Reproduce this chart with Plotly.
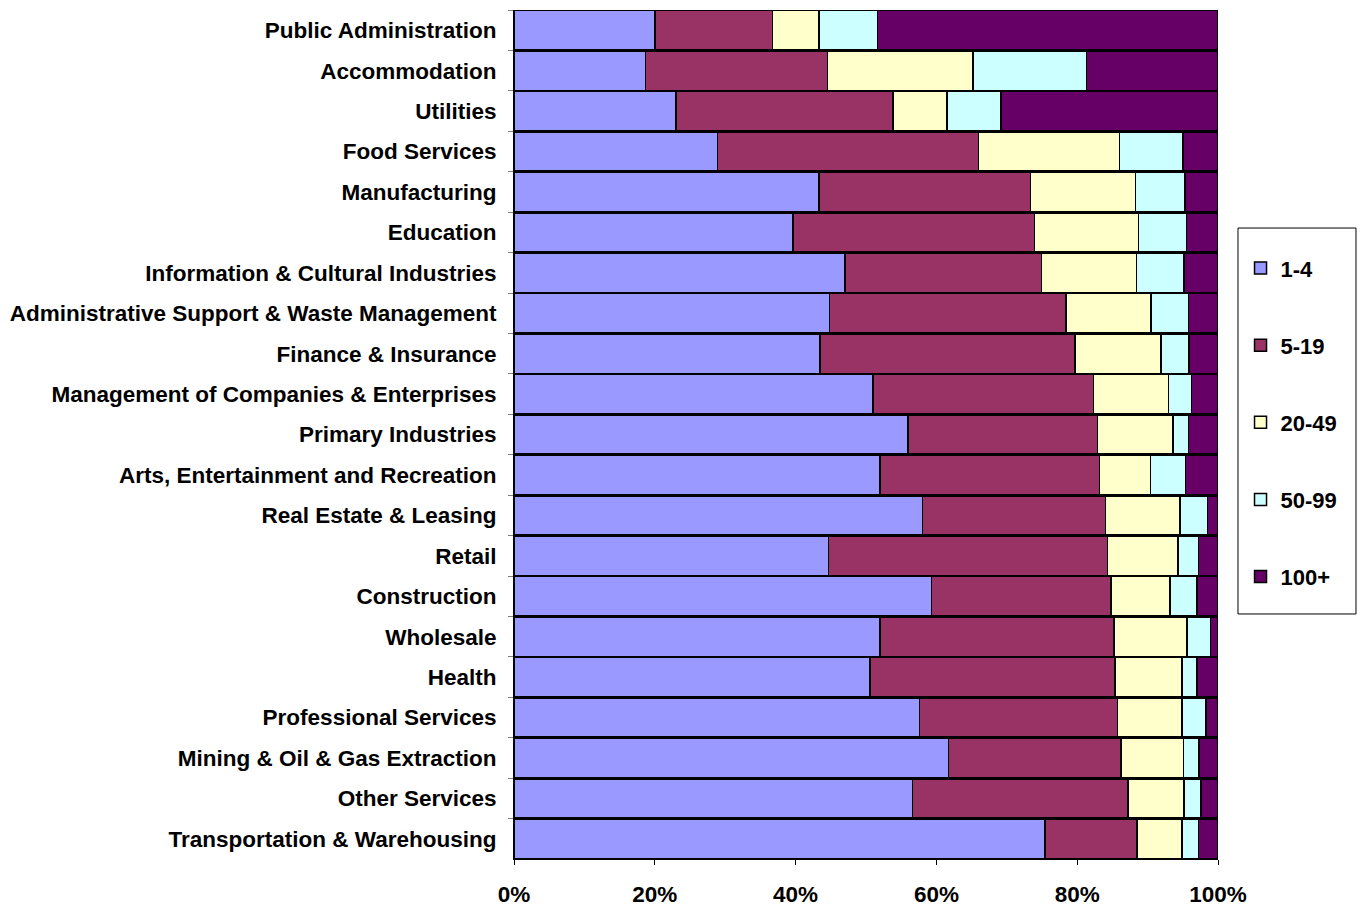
import plotly.graph_objects as go

industries = [
    "Public Administration",
    "Accommodation",
    "Utilities",
    "Food Services",
    "Manufacturing",
    "Education",
    "Information & Cultural Industries",
    "Administrative Support & Waste Management",
    "Finance & Insurance",
    "Management of Companies & Enterprises",
    "Primary Industries",
    "Arts, Entertainment and Recreation",
    "Real Estate & Leasing",
    "Retail",
    "Construction",
    "Wholesale",
    "Health",
    "Professional Services",
    "Mining & Oil & Gas Extraction",
    "Other Services",
    "Transportation & Warehousing",
]

size_1_4 = [20.0, 18.7, 23.0, 28.9, 43.3, 39.6, 47.0, 44.8, 43.5, 51.0, 56.0,
            52.0, 58.0, 44.7, 59.3, 52.0, 50.6, 57.6, 61.7, 56.6, 75.4]
size_5_19 = [16.7, 25.8, 30.8, 37.1, 30.1, 34.3, 27.9, 33.6, 36.2, 31.3, 26.9,
             31.2, 26.0, 39.6, 25.5, 33.2, 34.8, 28.1, 24.5, 30.6, 13.1]
size_20_49 = [6.6, 20.7, 7.7, 20.0, 14.9, 14.8, 13.5, 12.1, 12.2, 10.7, 10.7,
              7.2, 10.6, 10.0, 8.4, 10.4, 9.5, 9.2, 8.9, 8.0, 6.4]
size_50_99 = [8.3, 16.1, 7.7, 9.0, 7.0, 6.8, 6.8, 5.3, 4.0, 3.2, 2.2,
              5.0, 3.9, 2.9, 3.8, 3.3, 2.1, 3.4, 2.2, 2.4, 2.3]
size_100p = [48.4, 18.7, 30.8, 5.0, 4.7, 4.5, 4.8, 4.2, 4.1, 3.8, 4.2,
             4.6, 1.5, 2.8, 3.0, 1.1, 3.0, 1.7, 2.7, 2.4, 2.8]

series_names = ["1-4", "5-19", "20-49", "50-99", "100+"]
series_values = [size_1_4, size_5_19, size_20_49, size_50_99, size_100p]
colors = ["#9999FF", "#993366", "#FFFFCC", "#CCFFFF", "#660066"]

x_tickvals = [0, 20, 40, 60, 80, 100]
x_ticktext = ["0%", "20%", "40%", "60%", "80%", "100%"]

FONT = "Liberation Sans, Arial, sans-serif"
FS = 22.5

fig = go.Figure()
for name, vals, col in zip(series_names, series_values, colors):
    fig.add_trace(go.Bar(
        y=industries, x=vals, name=name, orientation="h",
        marker=dict(color=col, line=dict(color="black", width=1.5)),
        legendgroup=name,
        hoverinfo="name+x",
    ))

# legend frame (drawn as a shape so it can be padded like the original)
fig.add_shape(type="rect", xref="paper", yref="paper",
              x0=1.0284, x1=1.196, y0=0.2886, y1=0.7432,
              line=dict(color="black", width=1), fillcolor="white", layer="below")

fig.update_layout(
    width=1361, height=906,
    barmode="stack", barnorm="percent", bargap=0.03,
    plot_bgcolor="white", paper_bgcolor="white",
    margin=dict(l=514, r=143, t=10, b=47, autoexpand=False),
    font=dict(family=FONT, size=FS, color="black", weight="bold"),
    legend=dict(
        x=1.032, xanchor="left", y=0.7205, yanchor="top",
        borderwidth=0, bgcolor="rgba(0,0,0,0)",
        traceorder="grouped", tracegroupgap=45.5,
        font=dict(family=FONT, size=22, color="black", weight="bold"),
    ),
    xaxis=dict(
        range=[0, 100], tickvals=x_tickvals, ticktext=x_ticktext,
        showgrid=False, zeroline=False, showline=True, linecolor="black",
        linewidth=1, ticks="outside", ticklen=5, tickcolor="black",
        ticklabelstandoff=10, automargin=False,
        tickfont=dict(family=FONT, size=FS, color="black", weight="bold"),
    ),
    yaxis=dict(
        autorange="reversed", showgrid=False, showline=True, linecolor="black",
        linewidth=1, ticks="outside", ticklen=5, tickcolor="gray",
        tickson="boundaries", ticklabelstandoff=12, automargin=False,
        tickfont=dict(family=FONT, size=FS, color="black", weight="bold"),
    ),
)

fig.write_html("out.html",
               config={"displayModeBar": False},
               post_script="document.body.style.margin='0';document.body.style.overflow='hidden';")
